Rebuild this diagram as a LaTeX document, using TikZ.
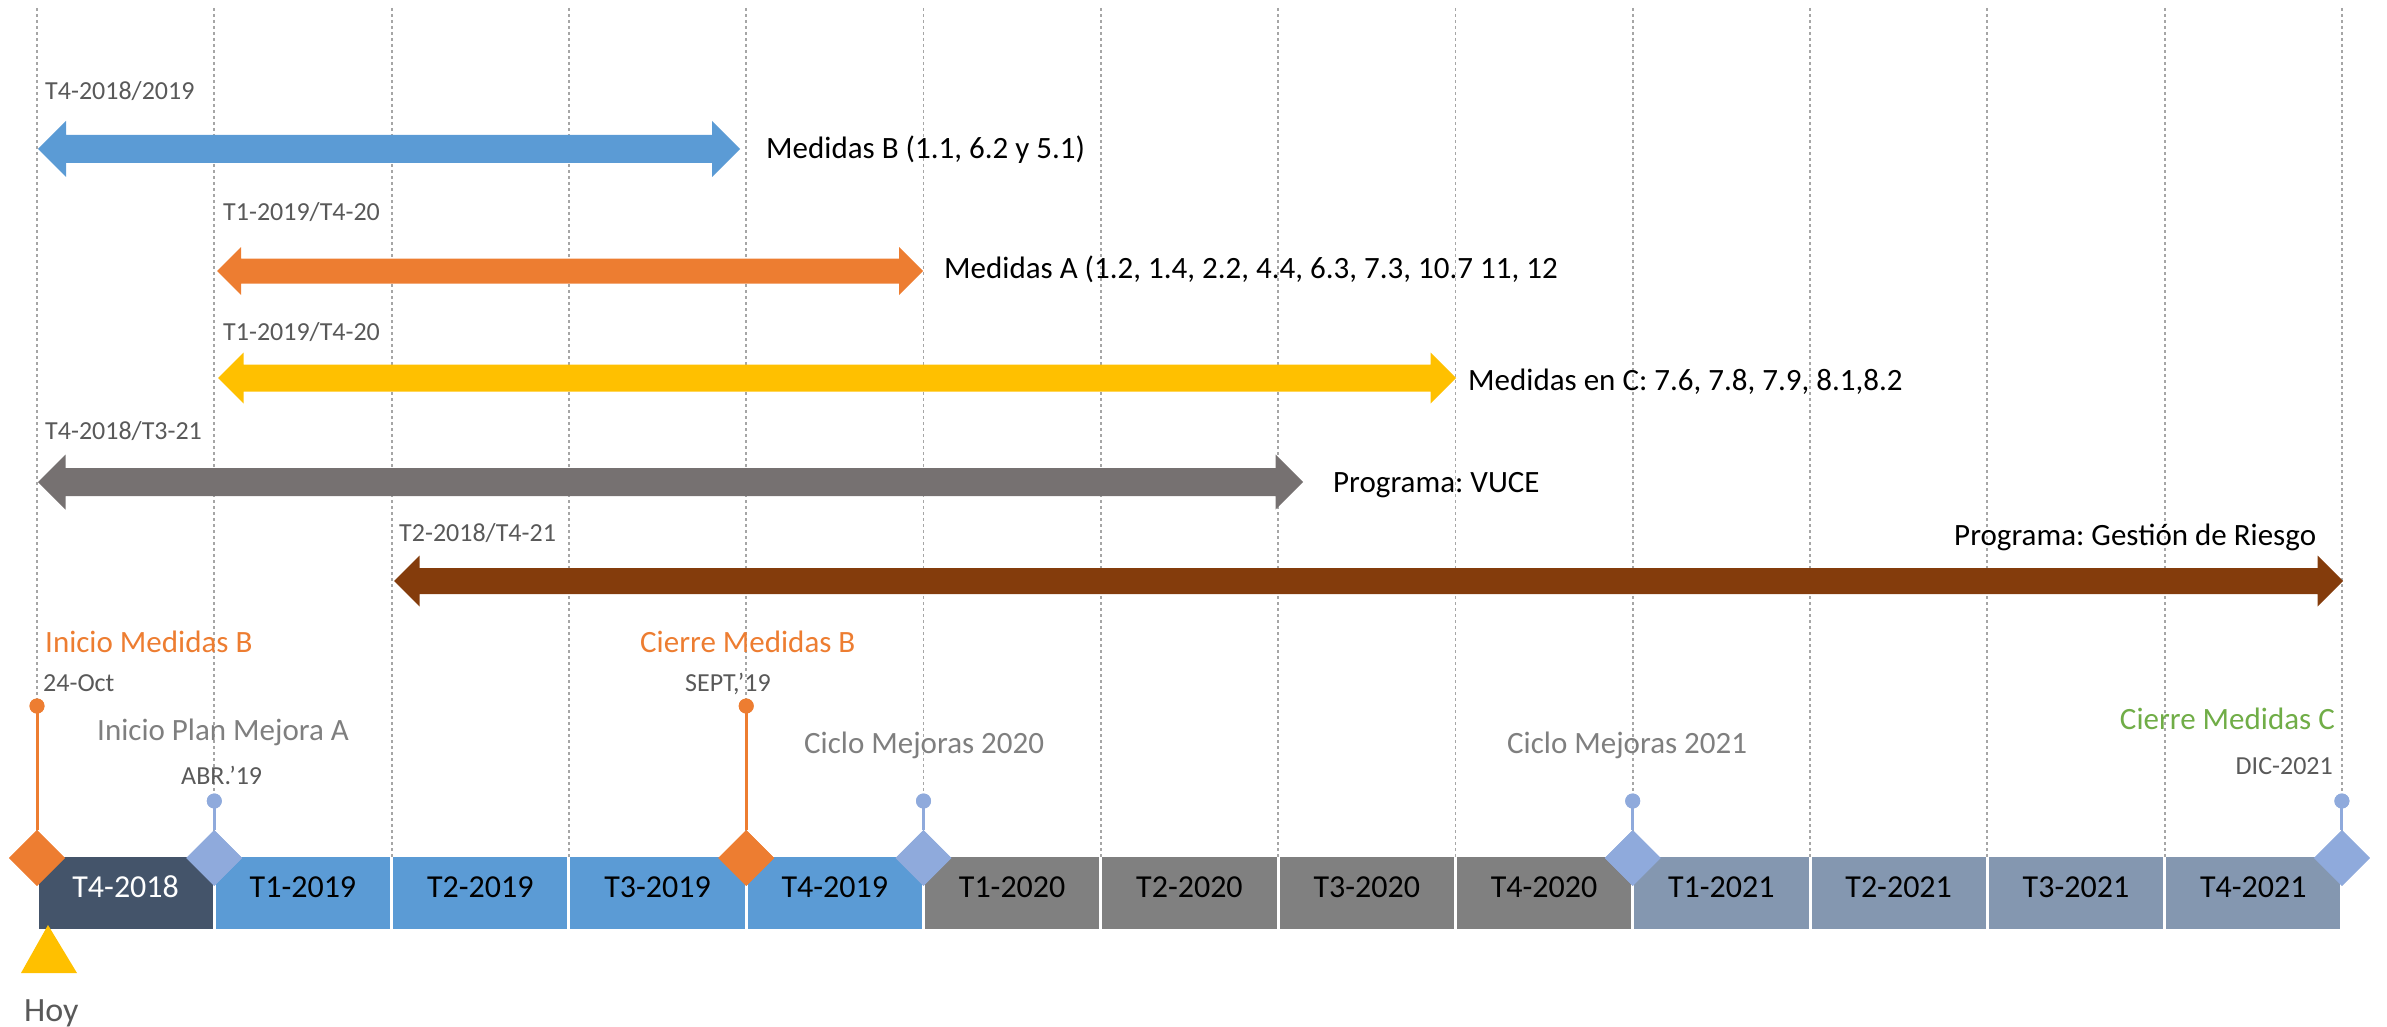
\documentclass[tikz,border=0pt]{standalone}
\usepackage{fontspec}
\setmainfont{Carlito}
\usetikzlibrary{shapes.geometric}
\frenchspacing
\definecolor{cBlue}{HTML}{5B9BD5}
\definecolor{cOrange}{HTML}{ED7D31}
\definecolor{cYellow}{HTML}{FFC000}
\definecolor{cGrayArr}{HTML}{767171}
\definecolor{cBrown}{HTML}{843C0C}
\definecolor{cDark}{HTML}{44546A}
\definecolor{cGrayCell}{HTML}{808080}
\definecolor{cSteel}{HTML}{8497B0}
\definecolor{cLav}{HTML}{8FAADC}
\definecolor{cGreen}{HTML}{70AD47}
\definecolor{cTxtGray}{HTML}{595959}
\definecolor{cTxtMid}{HTML}{7F7F7F}
\definecolor{cGrid}{HTML}{A6A6A6}
% double arrow: colour, x left tip, x right tip, y centre, shaft half, head half
\newcommand\tlArrow[6]{%
  \fill[#1] (#2,#4) -- ({#2+#6},{#4-#6}) -- ({#2+#6},{#4-#5}) -- ({#3-#6},{#4-#5})
    -- ({#3-#6},{#4-#6}) -- (#3,#4) -- ({#3-#6},{#4+#6}) -- ({#3-#6},{#4+#5})
    -- ({#2+#6},{#4+#5}) -- ({#2+#6},{#4+#6}) -- cycle;}
\begin{document}
\begin{tikzpicture}[x=1pt,y=-1pt,
  lbl/.style={font=\fontsize{31}{37}\selectfont,anchor=base west,inner sep=0pt},
  sml/.style={font=\fontsize{26}{31}\selectfont,text=cTxtGray,anchor=base west,inner sep=0pt},
  cell/.style={font=\fontsize{32}{38}\selectfont,anchor=base,inner sep=0pt},
  gridline/.style={cGrid,line width=1.8pt,dash pattern=on 3pt off 3pt},
  milestone/.style={diamond,aspect=1,minimum width=56pt,minimum height=56pt,inner sep=0pt},
  dotmark/.style={circle,minimum size=15pt,inner sep=0pt},
  stem/.style={line width=3pt}]
\useasboundingbox (0,0) rectangle (2387,1027);

% grid lines
\foreach \k in {0,...,13}{
  \draw[gridline] ({37+\k*177.3},8) -- ({37+\k*177.3},857);
}

% quarter cells
\foreach \k/\c/\t/\tc in {0/cDark/T4-2018/white,1/cBlue/T1-2019/black,2/cBlue/T2-2019/black,
  3/cBlue/T3-2019/black,4/cBlue/T4-2019/black,5/cGrayCell/T1-2020/black,6/cGrayCell/T2-2020/black,
  7/cGrayCell/T3-2020/black,8/cGrayCell/T4-2020/black,9/cSteel/T1-2021/black,10/cSteel/T2-2021/black,
  11/cSteel/T3-2021/black,12/cSteel/T4-2021/black}{
  \fill[\c] ({37+\k*177.3+1.5},857) rectangle ({37+(\k+1)*177.3-1.5},929);
  \node[cell,text=\tc] (cell\k) at ({37+(\k+0.5)*177.3},897) {\t};
}

% range arrows
\tlArrow{cBlue}{38}{740}{149}{14}{28}
\tlArrow{cOrange}{217}{923}{271}{12.5}{24}
\tlArrow{cYellow}{218}{1456}{378}{13.5}{25.5}
\tlArrow{cGrayArr}{38}{1303}{482}{14}{27.5}
\tlArrow{cBrown}{394}{2343}{581}{13}{25.5}

\node[sml] (r1) at (45,100) {T4-2018/2019};
\node[lbl] (l1) at (766,159) {Medidas B (1.1, 6.2 y 5.1)};
\node[sml] (r2) at (223,221) {T1-2019/T4-20};
\node[lbl] (l2) at (944,278) {Medidas A (1.2, 1.4, 2.2, 4.4, 6.3, 7.3, 10.7 11, 12};
\node[sml] (r3) at (223,340) {T1-2019/T4-20};
\node[lbl] (l3) at (1468,390) {Medidas en C: 7.6, 7.8, 7.9, 8.1,8.2};
\node[sml] (r4) at (45,439) {T4-2018/T3-21};
\node[lbl] (l4) at (1333,492) {Programa: VUCE};
\node[sml] (r5) at (399,541) {T2-2018/T4-21};
\node[lbl] (l5) at (1954,545) {Programa: Gestión de Riesgo};

% milestones
\foreach \n/\k/\c/\py in {a/0/cOrange/706,b/4/cOrange/706,c/1/cLav/801,d/5/cLav/801,e/9/cLav/801,f/13/cLav/801}{
  \node[milestone,fill=\c] (m\n) at ({37+\k*177.3},858) {};
  \node[dotmark,fill=\c] (p\n) at ({37+\k*177.3},\py) {};
  \draw[\c,stem] (p\n.center) -- (m\n.north);
  \node[milestone,fill=\c] at (m\n) {};
  \node[dotmark,fill=\c] at (p\n) {};
}

\node[lbl,text=cOrange] (t1) at (45,652) {Inicio Medidas B};
\node[sml] (t1d) at (43,691) {24-Oct};
\node[lbl,text=cTxtMid] (t2) at (97,740) {Inicio Plan Mejora A};
\node[sml] (t2d) at (181,784) {ABR.’19};
\node[lbl,text=cOrange] (t3) at (640,652) {Cierre Medidas B};
\node[sml] (t3d) at (685,691) {SEPT,’19};
\node[lbl,text=cTxtMid] (t4) at (804,753) {Ciclo Mejoras 2020};
\node[lbl,text=cTxtMid] (t5) at (1507,753) {Ciclo Mejoras 2021};
\node[lbl,text=cGreen,anchor=base east] (t6) at (2335,729) {Cierre Medidas C};
\node[sml,anchor=base east] (t6d) at (2333,774) {DIC-2021};

% today marker
\fill[cYellow] (48,925) -- (77,973) -- (21,973) -- cycle;
\node[font=\fontsize{34}{40}\selectfont,text=cTxtGray,anchor=base west,inner sep=0pt] (hoy) at (24,1021) {Hoy};
\end{tikzpicture}
\end{document}
